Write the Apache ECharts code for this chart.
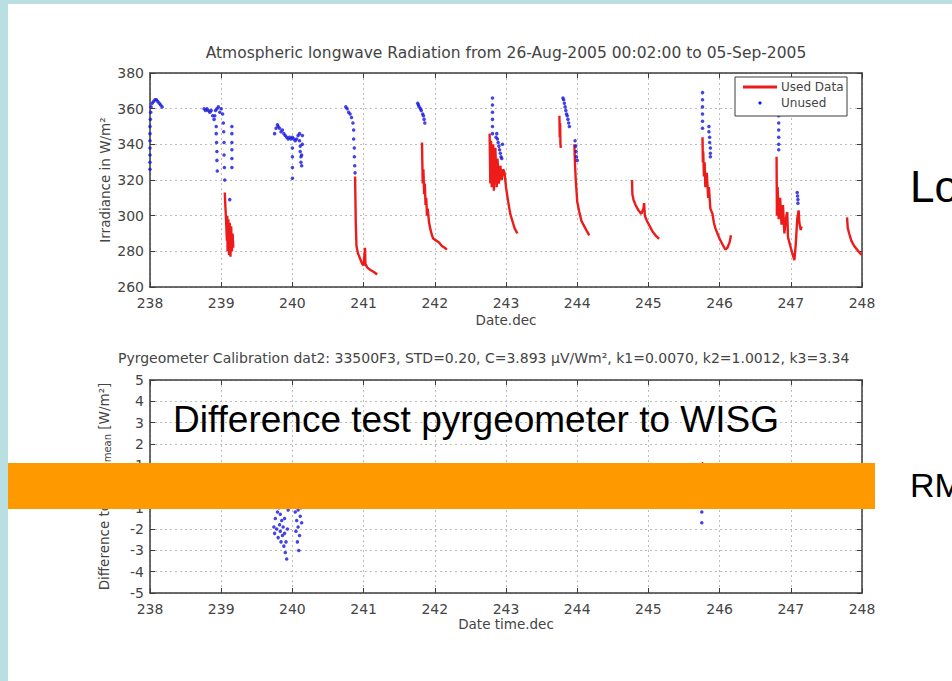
<!DOCTYPE html>
<html><head><meta charset="utf-8">
<script src="https://cdn.jsdelivr.net/npm/echarts@6/dist/echarts.min.js"></script>
<style>
html,body{margin:0;padding:0;width:952px;height:681px;overflow:hidden;background:#b9dfe3;}
#paper{position:absolute;left:8px;top:4px;right:0;bottom:0;background:#fff;}
#chart{position:absolute;left:0;top:0;width:952px;height:681px;}
</style></head><body>
<div id="paper"></div><div id="chart"></div>
<script>
// ---- texts ----
const topTitle = 'Atmospheric longwave Radiation from 26-Aug-2005 00:02:00 to 05-Sep-2005';
const bottomTitle = 'Pyrgeometer Calibration dat2: 33500F3, STD=0.20, C=3.893 \u03bcV/Wm\u00b2, k1=0.0070, k2=1.0012, k3=3.34';
const overlayText = 'Difference test pyrgeometer to WISG';
const sideTextTop = 'Lo';
const sideTextBottom = 'RM';
const legendNames = ['Used Data', 'Unused'];

// ---- axes ----
const dayMin = 238, dayMax = 248, dayStep = 1;
const irrMin = 260, irrMax = 380, irrStep = 20;
const diffMin = -5, diffMax = 5, diffStep = 1;

// ---- top plot: used data (red), one array per day ----
const used239 = [[239.05,313],[239.06,304],[239.07,296],[239.08,286],[239.085,300],[239.09,280],[239.10,298],[239.11,278],[239.12,296],[239.13,277],[239.14,294],[239.15,280],[239.16,290],[239.17,282]];
const used241 = [[240.88,322],[240.885,310],[240.89,296],[240.90,283],[240.92,279],[240.95,276],[240.98,273],[241.00,272],[241.02,282],[241.025,273],[241.05,271],[241.08,270],[241.12,269],[241.16,268],[241.19,267]];
const used242 = [[241.82,341],[241.825,330],[241.83,318],[241.84,326],[241.85,312],[241.86,318],[241.87,306],[241.88,310],[241.89,300],[241.90,304],[241.92,296],[241.94,292],[241.96,289],[241.98,287],[242.02,286],[242.06,285],[242.10,283],[242.14,282],[242.17,281]];
const used243 = [[242.77,346],[242.78,318],[242.79,342],[242.80,316],[242.82,340],[242.83,314],[242.85,338],[242.87,316],[242.88,332],[242.90,318],[242.92,328],[242.94,320],[242.96,326],[242.98,324],[243.00,316],[243.03,308],[243.06,301],[243.09,297],[243.12,293],[243.16,290]];
const used244a = [[243.75,356],[243.755,344],[243.76,352],[243.765,340],[243.77,338]];
const used244b = [[243.96,340],[243.97,328],[243.98,320],[244.00,308],[244.03,302],[244.06,297],[244.10,294],[244.14,291],[244.17,289]];
const used245 = [[244.77,320],[244.775,312],[244.79,309],[244.82,306],[244.86,303],[244.90,301],[244.93,304],[244.94,307],[244.95,300],[244.98,297],[245.02,294],[245.06,291],[245.10,289],[245.15,287]];
const used246 = [[245.76,344],[245.765,330],[245.77,336],[245.78,322],[245.79,330],[245.80,316],[245.82,324],[245.84,310],[245.85,316],[245.87,304],[245.90,301],[245.92,296],[245.94,293],[245.97,290],[246.00,287],[246.04,284],[246.08,281],[246.11,282],[246.14,285],[246.16,289]];
const used247 = [[246.80,333],[246.805,300],[246.815,316],[246.83,298],[246.85,310],[246.87,295],[246.89,306],[246.91,290],[246.93,298],[246.95,302],[246.96,288],[246.98,285],[247.00,282],[247.02,279],[247.05,275],[247.07,284],[247.09,298],[247.11,303],[247.12,296],[247.14,292],[247.15,294]];
const used248 = [[247.79,299],[247.80,293],[247.82,290],[247.85,286],[247.89,283],[247.93,281],[247.97,279],[248.00,278]];

// ---- top plot: unused data (blue dots) ----
const unused238 = [[238.0,326],[238.0,330],[238.0,334],[238.0,338],[238.0,342],[238.0,346],[238.0,350],[238.005,354],[238.01,358],[238.015,361],[238.03,363],[238.05,364],[238.07,365],[238.09,365],[238.11,364],[238.13,363],[238.15,362],[238.17,361]];
const unused239 = [[238.76,360],[238.78,359],[238.80,360],[238.82,359],[238.84,358],[238.86,359],[238.88,356],[238.90,354],[238.91,356],[238.92,359],[238.94,360],[238.96,361],[238.98,358],[239.00,360],[239.02,357],[238.93,350],[238.93,346],[238.935,341],[238.94,336],[238.94,331],[238.945,325],[239.03,352],[239.035,347],[239.04,341],[239.04,334],[239.045,327],[239.05,320],[239.15,350],[239.15,346],[239.15,341],[239.15,337],[239.15,332],[239.15,327],[239.12,309]];
const unused240 = [[239.75,346],[239.77,349],[239.79,351],[239.80,350],[239.82,349],[239.84,347],[239.86,348],[239.88,346],[239.90,345],[239.92,344],[239.94,343],[239.96,344],[239.98,343],[240.00,344],[240.02,343],[240.04,342],[240.06,343],[240.08,345],[240.10,346],[240.10,342],[240.11,339],[240.11,336],[240.12,333],[240.12,330],[240.13,328],[240.13,334],[240.14,340],[240.14,345],[240.00,338],[240.00,333],[240.00,327],[240.00,321]];
const unused241 = [[240.75,361],[240.77,360],[240.79,358],[240.81,357],[240.83,355],[240.85,352],[240.86,348],[240.86,343],[240.87,338],[240.87,333],[240.875,328],[240.88,324]];
const unused242 = [[241.76,363],[241.77,362],[241.78,361],[241.80,360],[241.81,359],[241.83,357],[241.84,356],[241.85,354],[241.86,352]];
const unused243 = [[242.81,366],[242.81,362],[242.81,358],[242.81,354],[242.81,350],[242.81,346],[242.86,344],[242.87,346],[242.88,343],[242.89,341],[242.90,339],[242.91,337],[242.92,335],[242.93,333],[242.94,332],[242.95,340]];
const unused244 = [[243.80,366],[243.81,365],[243.82,363],[243.83,361],[243.84,359],[243.85,357],[243.86,356],[243.87,354],[243.88,352],[243.89,350],[243.97,342],[243.98,339],[243.985,336],[243.99,333],[244.00,331]];
const unused246 = [[245.76,369],[245.76,365],[245.76,361],[245.76,357],[245.76,353],[245.76,349],[245.85,350],[245.85,347],[245.86,344],[245.86,341],[245.87,338],[245.87,335],[245.87,333]];
const unused247 = [[246.83,356],[246.83,352],[246.83,348],[246.83,344],[246.83,340],[246.83,337],[247.09,313],[247.095,311],[247.10,309],[247.10,307]];

// ---- bottom plot: difference ----
const diffUsed245 = [[245.74,0.3],[245.75,-0.4],[245.76,1.15],[245.77,-0.2],[245.78,0.4]];
const diffUsed243 = [[242.78,0.4],[242.85,-0.3],[242.95,0.5],[243.05,-0.2],[243.15,0.2]];
const diffUnused = [[239.74,-1.9],[239.75,-2.2],[239.76,-1.5],[239.78,-2.0],[239.79,-1.2],[239.80,-2.4],[239.81,-1.0],[239.82,-1.8],[239.83,-2.1],[239.84,-2.6],[239.85,-1.6],[239.86,-2.3],[239.87,-1.9],[239.88,-2.8],[239.89,-2.2],[239.90,-3.1],[239.91,-2.6],[239.92,-3.4],[239.93,-2.0],[239.94,-1.1],[239.95,-0.9],[239.77,-0.8],[239.83,-1.3],[239.89,-1.5],[240.04,-1.2],[240.05,-2.1],[240.06,-1.6],[240.07,-2.6],[240.08,-1.9],[240.09,-3.0],[240.10,-2.3],[240.11,-1.4],[240.12,-1.0],[240.13,-1.7],[240.14,-0.9],[240.08,-1.1],[245.75,-1.2],[245.75,-1.7]];

const usedTop = [used239, used241, used242, used243, used244a, used244b, used245, used246, used247, used248];
const unusedTop = [].concat(unused238, unused239, unused240, unused241, unused242, unused243, unused244, unused246, unused247);
const usedBottom = [diffUsed243, diffUsed245];

const RED = '#ee1b1b', BLUE = '#1515e0', AX = '#3c3c3c', LBL = '#444';
const FONT = '"DejaVu Sans", sans-serif';

function xAxes(grid, name, gap) {
  return [{
    type:'value', gridIndex:grid, min:dayMin, max:dayMax, interval:dayStep, position:'bottom',
    name:name, nameLocation:'middle', nameGap:gap, nameMoveOverlap:false,
    nameTextStyle:{color:LBL, fontSize:13.5, fontFamily:FONT},
    axisLine:{show:true, onZero:false, lineStyle:{color:AX, width:1.5}},
    axisTick:{show:true, inside:true, length:5, lineStyle:{color:AX}},
    axisLabel:{color:LBL, fontSize:14, fontFamily:FONT, margin:9, hideOverlap:false, showMinLabel:true, showMaxLabel:true},
    splitLine:{show:true, lineStyle:{color:'#bdbdbd', type:[2,3], width:1}}
  },{
    type:'value', gridIndex:grid, min:dayMin, max:dayMax, interval:dayStep, position:'top',
    axisLine:{show:true, onZero:false, lineStyle:{color:AX, width:1.5}},
    axisTick:{show:true, inside:true, length:5, lineStyle:{color:AX}},
    axisLabel:{show:false}, splitLine:{show:false}
  }];
}
function yAxes(grid, mn, mx, step, name, rich) {
  return [{
    type:'value', gridIndex:grid, min:mn, max:mx, interval:step, position:'left',
    name:name, nameLocation:'middle', nameGap:38, nameMoveOverlap:false,
    nameTextStyle:{color:LBL, fontSize:13.5, fontFamily:FONT, rich:rich},
    axisLine:{show:true, onZero:false, lineStyle:{color:AX, width:1.5}},
    axisTick:{show:true, inside:true, length:5, lineStyle:{color:AX}},
    axisLabel:{color:LBL, fontSize:14, fontFamily:FONT, margin:6, hideOverlap:false, showMinLabel:true, showMaxLabel:true},
    splitLine:{show:true, lineStyle:{color:'#bdbdbd', type:[2,3], width:1}}
  },{
    type:'value', gridIndex:grid, min:mn, max:mx, interval:step, position:'right',
    axisLine:{show:true, onZero:false, lineStyle:{color:AX, width:1.5}},
    axisTick:{show:true, inside:true, length:5, lineStyle:{color:AX}},
    axisLabel:{show:false}, splitLine:{show:false}
  }];
}

const series = [];
usedTop.forEach(seg => series.push({type:'line', name:legendNames[0], xAxisIndex:0, yAxisIndex:0, data:seg, showSymbol:false, symbol:'none', lineStyle:{color:RED, width:2.4}, itemStyle:{color:RED}, silent:true, animation:false, z:2}));
series.push({type:'scatter', name:legendNames[1], xAxisIndex:0, yAxisIndex:0, data:unusedTop, symbol:'circle', symbolSize:3.5, itemStyle:{color:BLUE}, silent:true, animation:false, z:3});
usedBottom.forEach(seg => series.push({type:'line', name:legendNames[0], xAxisIndex:2, yAxisIndex:2, data:seg, showSymbol:false, symbol:'none', lineStyle:{color:RED, width:1.5}, silent:true, animation:false, z:2}));
series.push({type:'scatter', name:legendNames[1], xAxisIndex:2, yAxisIndex:2, data:diffUnused, symbol:'circle', symbolSize:3.5, itemStyle:{color:BLUE}, silent:true, animation:false, z:3});

const chart = echarts.init(document.getElementById('chart'), null, {renderer:'svg', width:952, height:681});
chart.setOption({
  animation:false,
  backgroundColor:'transparent',
  grid:[
    {left:150, right:90, top:73, height:214, outerBoundsMode:'none', containLabel:false},
    {left:150, right:90, top:380, height:213, outerBoundsMode:'none', containLabel:false}
  ],
  xAxis:[].concat(xAxes(0,'Date.dec',26), xAxes(1,'Date time.dec',24)),
  yAxis:[].concat(
    yAxes(0, irrMin, irrMax, irrStep, 'Irradiance in W/m\u00b2', {}),
    yAxes(1, diffMin, diffMax, diffStep, 'Difference to WISG{sub|mean} [W/m\u00b2]', {sub:{fontSize:10, fontFamily:FONT, color:LBL, verticalAlign:'bottom', padding:[6,0,0,0]}})
  ),
  series:series,
  graphic:[
    {type:'text', x:506, y:53, z:10, style:{text:topTitle, fill:LBL, font:'15.5px '+FONT, align:'center', verticalAlign:'middle'}},
    {type:'text', x:118, y:358, z:10, style:{text:bottomTitle, fill:LBL, font:'14px '+FONT, align:'left', verticalAlign:'middle'}},
    // legend box
    {type:'rect', x:735, y:77, z:20, shape:{width:112, height:39}, style:{fill:'#fff', stroke:AX, lineWidth:1}},
    {type:'line', z:21, shape:{x1:743, y1:87, x2:777, y2:87}, style:{stroke:RED, lineWidth:3}},
    {type:'text', x:781, y:87, z:21, style:{text:legendNames[0], fill:LBL, font:'12px '+FONT, align:'left', verticalAlign:'middle'}},
    {type:'circle', z:21, shape:{cx:760, cy:103, r:1.6}, style:{fill:BLUE}},
    {type:'text', x:781, y:103, z:21, style:{text:legendNames[1], fill:LBL, font:'12px '+FONT, align:'left', verticalAlign:'middle'}},
    // overlay slide elements
    {type:'text', x:173, y:419, z:30, style:{text:overlayText, fill:'#000', font:'37px "Liberation Sans", Arial, sans-serif', align:'left', verticalAlign:'middle'}},
    {type:'rect', x:8, y:463, z:30, shape:{width:867, height:46}, style:{fill:'#ff9900'}},
    {type:'text', x:910, y:186, z:30, style:{text:sideTextTop, fill:'#000', font:'44px "Liberation Sans", Arial, sans-serif', align:'left', verticalAlign:'middle'}},
    {type:'text', x:910, y:485, z:30, style:{text:sideTextBottom, fill:'#000', font:'34px "Liberation Sans", Arial, sans-serif', align:'left', verticalAlign:'middle'}}
  ]
});
</script></body></html>
